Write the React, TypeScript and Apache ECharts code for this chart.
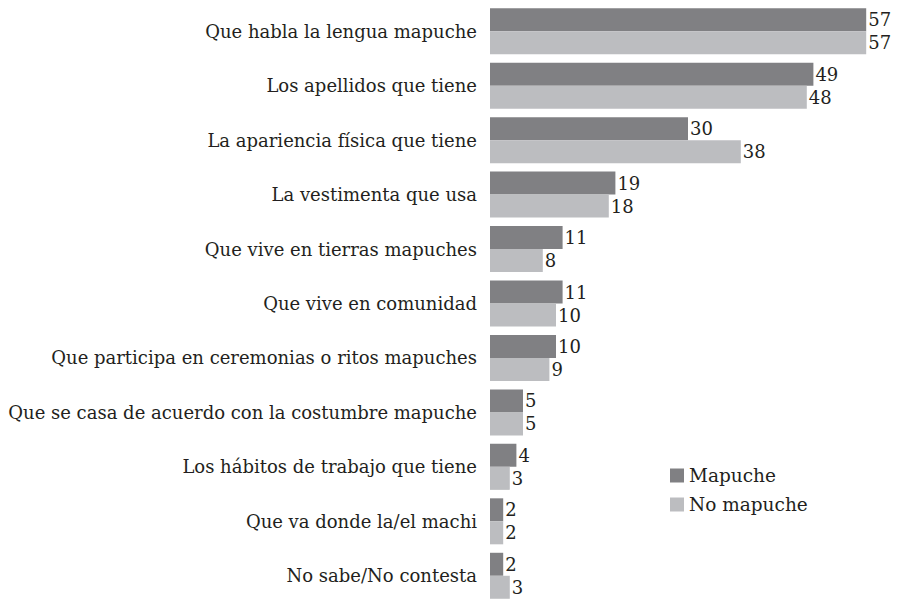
import React, { useEffect, useRef } from "react";
import * as echarts from "echarts";

const categories = [
  "Que habla la lengua mapuche",
  "Los apellidos que tiene",
  "La apariencia física que tiene",
  "La vestimenta que usa",
  "Que vive en tierras mapuches",
  "Que vive en comunidad",
  "Que participa en ceremonias o ritos mapuches",
  "Que se casa de acuerdo con la costumbre mapuche",
  "Los hábitos de trabajo que tiene",
  "Que va donde la/el machi",
  "No sabe/No contesta",
];
const mapuche = [57, 49, 30, 19, 11, 11, 10, 5, 4, 2, 2];
const noMapuche = [57, 48, 38, 18, 8, 10, 9, 5, 3, 2, 3];

const FONT = "DejaVu Serif";

export default function App() {
  const ref = useRef<HTMLDivElement>(null);
  useEffect(() => {
    const chart = echarts.init(ref.current!, undefined, { renderer: "svg" });
    const label = {
      show: true,
      position: "right" as const,
      distance: 2,
      color: "#231f20",
      fontSize: 18,
      fontFamily: FONT,
    };
    chart.setOption({
      animation: false,
      grid: { left: 490, right: 12, top: 4, height: 601 },
      legend: {
        orient: "vertical",
        left: 665,
        top: 461,
        itemWidth: 14,
        itemHeight: 14,
        itemGap: 10,
        icon: "rect",
        textStyle: { fontSize: 18.5, fontFamily: FONT, color: "#231f20" },
        data: ["Mapuche", "No mapuche"],
      },
      xAxis: {
        type: "value",
        min: 0,
        max: 60,
        show: false,
      },
      yAxis: {
        type: "category",
        inverse: true,
        data: categories,
        axisLine: { show: false },
        axisTick: { show: false },
        axisLabel: { margin: 13, fontSize: 18, fontFamily: FONT, color: "#231f20" },
      },
      series: [
        {
          name: "Mapuche",
          type: "bar",
          data: mapuche,
          barWidth: 23,
          barGap: "0%",
          itemStyle: { color: "#808083" },
          label,
        },
        {
          name: "No mapuche",
          type: "bar",
          data: noMapuche,
          barWidth: 23,
          barGap: "0%",
          itemStyle: { color: "#bcbdc0" },
          label,
        },
      ],
    });
    return () => chart.dispose();
  }, []);
  return <div ref={ref} style={{ width: 898, height: 603, position: "absolute", left: 0, top: 0 }} />;
}
